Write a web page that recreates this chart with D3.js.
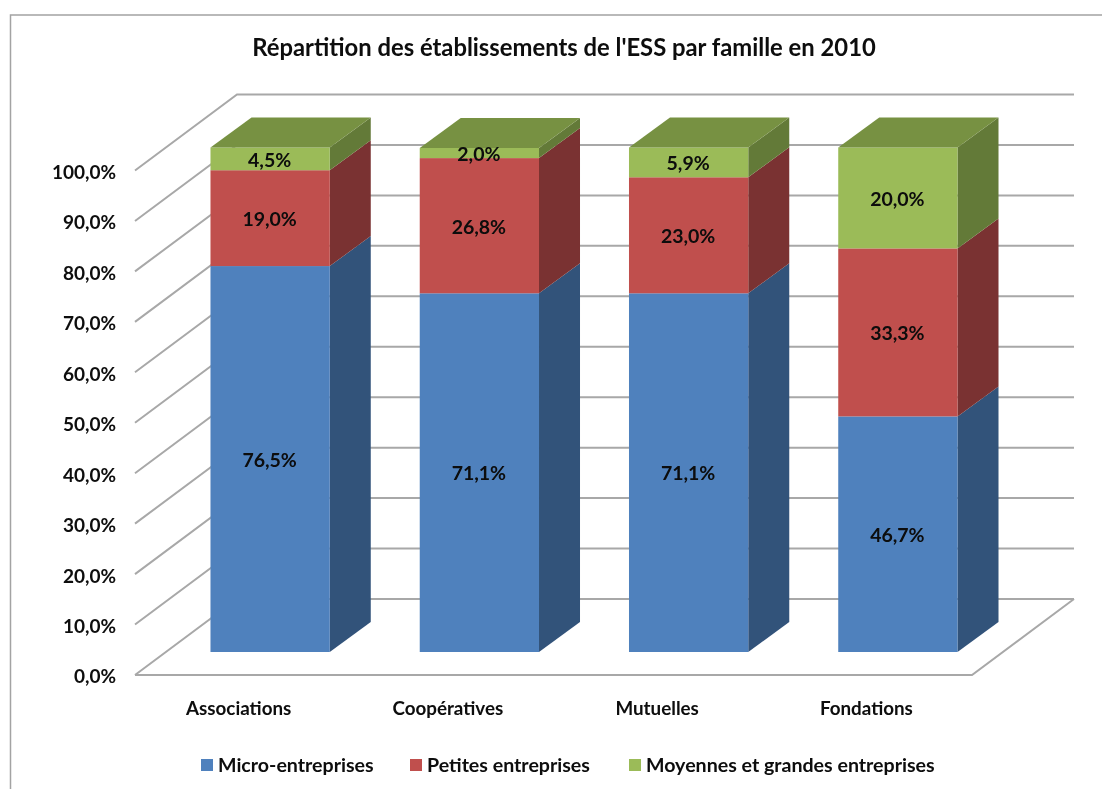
<!DOCTYPE html>
<html>
<head>
<meta charset="utf-8">
<script src="https://cdn.jsdelivr.net/npm/d3@7"></script>
<style>
	html, body { margin: 0; padding: 0; background: #fff; overflow: hidden; }
	text { font-family: Lato, "Open Sans", sans-serif; font-weight: 700; fill: #0a0a0a; }
</style>
</head>
<body>
<div id="chart"></div>
<script>
var chartTitle = "Répartition des établissements de l'ESS par famille en 2010";
var families = ['Associations', 'Coopératives', 'Mutuelles', 'Fondations'];
var seriesNames = ['Micro-entreprises', 'Petites entreprises', 'Moyennes et grandes entreprises'];
var micro = [76.5, 71.1, 71.1, 46.7];
var petites = [19.0, 26.8, 23.0, 33.3];
var moyennes = [4.5, 2.0, 5.9, 20.0];
var yTicks = [0, 10, 20, 30, 40, 50, 60, 70, 80, 90, 100];

var faceColors = ['#4f81bd', '#c0504d', '#9bbb59'];
var sideColors = ['#32527a', '#7a3230', '#647a39'];
var topColor = '#779143';
var gridColor = '#a8a8a8';

var width = 1102, height = 789;

var svg = d3.select('#chart').append('svg')
	.attr('width', width)
	.attr('height', height);

var defs = svg.append('defs');
defs.append('filter').attr('id', 'soft')
	.append('feGaussianBlur').attr('stdDeviation', 0.5);

var g = svg.append('g').attr('filter', 'url(#soft)');

// chart frame, only the top and left edges are in the crop
g.append('path')
	.attr('d', 'M10.5,789V15H1102')
	.attr('fill', 'none')
	.attr('stroke', '#a3a3a3')
	.attr('stroke-width', 1.5);

// front plane of the 3d box
var y = d3.scaleLinear().domain([0, 100]).range([675, 170.5]);
var xFront = d3.scaleBand().domain(families).range([135, 972]);

var wallDepth = {x: 102, y: -76};
var barDepth = {x: 41, y: -30};
var barShift = {x: 30.5, y: -23};

// bars stand a little way into the box
var x = d3.scaleBand()
	.domain(families)
	.range([135 + barShift.x, 972 + barShift.x])
	.paddingInner(0.43)
	.paddingOuter(0.215);

function barY(v) {
	return y(v) + barShift.y;
}

function drawGrid() {
	var grid = g.append('g')
		.attr('fill', 'none')
		.attr('stroke', gridColor)
		.attr('stroke-width', 2);

	yTicks.forEach(function(t) {
		grid.append('path').attr('d', d3.line()([
			[135, y(t)],
			[135 + wallDepth.x, y(t) + wallDepth.y],
			[972 + wallDepth.x, y(t) + wallDepth.y]
		]));
	});

	// floor
	grid.append('path').attr('d', d3.line()([
		[135, y(0)],
		[972, y(0)],
		[972 + wallDepth.x, y(0) + wallDepth.y]
	]));
}

function drawBars() {
	var stack = d3.stack().keys([0, 1, 2]).value(function(d, k) { return d[k]; });
	var rows = families.map(function(f, i) { return [micro[i], petites[i], moyennes[i]]; });
	var layers = stack(rows);

	families.forEach(function(f, i) {
		var bar = g.append('g').attr('class', 'bar');
		var x0 = x(f);
		var x1 = x0 + x.bandwidth();

		layers.forEach(function(layer, s) {
			var yBase = barY(layer[i][0]);
			var yTop = barY(layer[i][1]);

			bar.append('path')
				.attr('fill', sideColors[s])
				.attr('d', d3.line()([
					[x1, yBase],
					[x1 + barDepth.x, yBase + barDepth.y],
					[x1 + barDepth.x, yTop + barDepth.y],
					[x1, yTop]
				]) + 'Z');

			bar.append('rect')
				.attr('x', x0)
				.attr('y', yTop)
				.attr('width', x.bandwidth())
				.attr('height', yBase - yTop)
				.attr('fill', faceColors[s]);
		});

		var yStackTop = barY(layers[2][i][1]);
		bar.append('path')
			.attr('fill', topColor)
			.attr('d', d3.line()([
				[x0, yStackTop],
				[x0 + barDepth.x, yStackTop + barDepth.y],
				[x1 + barDepth.x, yStackTop + barDepth.y],
				[x1, yStackTop]
			]) + 'Z');
	});

	// labels go on top of all the bars
	layers.forEach(function(layer, s) {
		g.selectAll('text.value-' + s)
			.data(layer)
			.enter().append('text')
			.attr('class', 'value-' + s)
			.attr('x', function(d, i) { return x(families[i]) + x.bandwidth() / 2 - 0.5; })
			.attr('y', function(d) { return (barY(d[0]) + barY(d[1])) / 2 + 1; })
			.attr('dy', '0.35em')
			.attr('text-anchor', 'middle')
			.style('font-size', '19.5px')
			.text(function(d) { return formatPct(d[1] - d[0]); });
	});
}

function formatPct(v) {
	return d3.format('.1f')(v).replace('.', ',') + '%';
}

function drawAxes() {
	var yAxis = g.append('g')
		.attr('transform', 'translate(116,0)')
		.call(d3.axisLeft(y).tickValues(yTicks).tickSize(0).tickPadding(0).tickFormat(formatPct));
	yAxis.select('.domain').remove();
	yAxis.selectAll('text').style('font-size', '19px').attr('dy', '0.42em');

	var xAxis = g.append('g')
		.attr('transform', 'translate(0,708)')
		.call(d3.axisBottom(xFront).tickSize(0).tickPadding(0));
	xAxis.select('.domain').remove();
	xAxis.selectAll('text').style('font-size', '18.8px').attr('dy', '0.35em').attr('dx', -1);
}

function drawLegend() {
	var legendX = d3.scaleOrdinal().domain(seriesNames).range([201, 410, 629]);

	var item = g.selectAll('g.legend')
		.data(seriesNames)
		.enter().append('g')
		.attr('class', 'legend')
		.attr('transform', function(d) { return 'translate(' + legendX(d) + ',765)'; });

	item.append('rect')
		.attr('y', -6)
		.attr('width', 12)
		.attr('height', 12)
		.attr('fill', function(d, i) { return faceColors[i]; });

	item.append('text')
		.attr('x', 17)
		.attr('dy', '0.35em')
		.style('font-size', '19.6px')
		.text(function(d) { return d; });
}

g.append('text')
	.attr('x', 564)
	.attr('y', 48)
	.attr('dy', '0.35em')
	.attr('text-anchor', 'middle')
	.style('font-size', '23.8px')
	.text(chartTitle);

drawGrid();
drawBars();
drawAxes();
drawLegend();
</script>
</body>
</html>
